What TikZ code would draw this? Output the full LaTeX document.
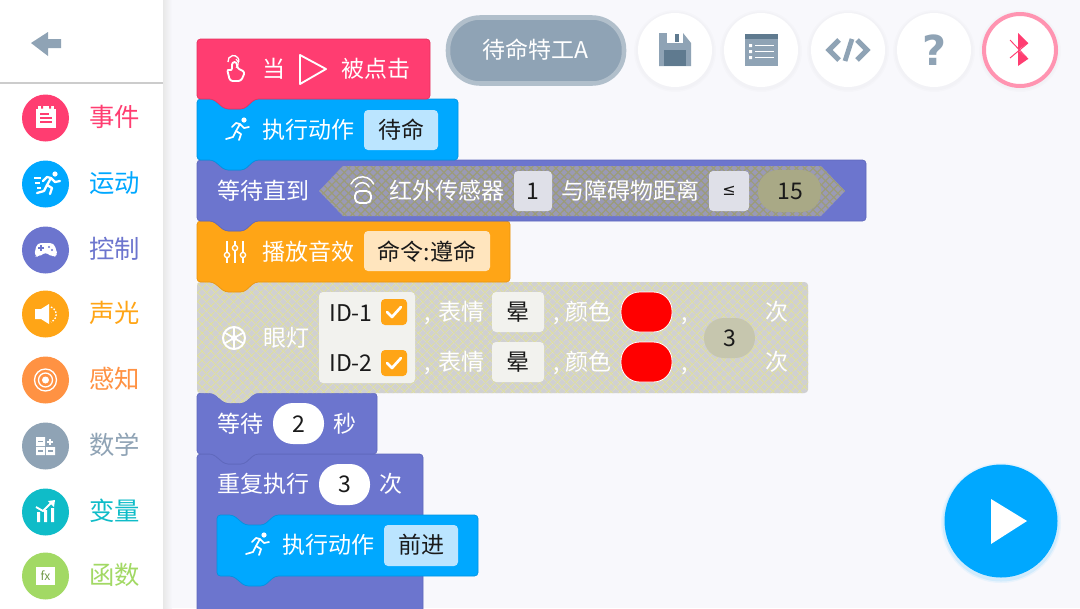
\documentclass[tikz,border=0pt]{standalone}
\usepackage{fontspec}
\setmainfont{Noto Sans CJK SC}
\newfontfamily\symf{DejaVu Sans}
\usetikzlibrary{patterns.meta,shadings}
\definecolor{bgc}{HTML}{F8F8FC}
\definecolor{pinkc}{HTML}{FF3D71}
\definecolor{pinkd}{HTML}{E5345F}
\definecolor{bluec}{HTML}{00A8FF}
\definecolor{blued}{HTML}{0093E0}
\definecolor{purpc}{HTML}{6C75CE}
\definecolor{purpd}{HTML}{5F68BC}
\definecolor{orgc}{HTML}{FFA516}
\definecolor{orgd}{HTML}{E8940F}
\definecolor{org2}{HTML}{FF9243}
\definecolor{greyc}{HTML}{8FA3B5}
\definecolor{greyd}{HTML}{5F7A8F}
\definecolor{tealc}{HTML}{0FBCC8}
\definecolor{greenc}{HTML}{A2D964}
\definecolor{fldblue}{HTML}{BBE5FF}
\definecolor{fldorg}{HTML}{FFE5BE}
\definecolor{fldgrey}{HTML}{DFE0E8}
\definecolor{fldpale}{HTML}{F2F2EE}
\definecolor{lampc}{HTML}{D0D0D2}
\definecolor{lampy}{HTML}{E0E09A}
\definecolor{hexc}{HTML}{9A9AB6}
\definecolor{hexy}{HTML}{9C9C78}
\definecolor{ovalA}{HTML}{A9A986}
\definecolor{ovalB}{HTML}{C6C6AE}
\definecolor{inkc}{HTML}{1A1A1A}
\newcommand{\fs}[1]{\fontsize{#1}{#1}\selectfont}
\newcommand{\blockshape}[4]{%
 (#1,#2) -- (#1+16,#2) -- (#1+28,#2+10) -- (#1+47,#2+10) -- (#1+58,#2) -- (#3,#2)
 -- (#3,#4) -- (#1+58,#4) -- (#1+47,#4+10) -- (#1+28,#4+10) -- (#1+16,#4) -- (#1,#4) -- cycle}
\tikzset{
 x=0.75pt,y=-0.75pt,
 cat/.style={font=\fs{19}},
 wht/.style={text=white,font=\fs{17.25},inner sep=0pt},
 blk/.style={text=inkc,font=\fs{17.25},inner sep=0pt},
 field/.style={rounded corners=3pt},
 iconl/.style={draw=white,line width=1.4pt,line cap=round,fill=none},
 topbtn/.style={fill=white,draw=none},
 blockb/.style={rounded corners=2.6pt,line width=.5pt},
 lampfill/.style={preaction={fill=lampc},pattern={Lines[angle=45,distance=5.4pt,line width=.9pt]},pattern color=lampy,postaction={pattern={Lines[angle=-45,distance=5.4pt,line width=.9pt]},pattern color=lampy}},
 hexfill/.style={preaction={fill=hexc},pattern={Lines[angle=45,distance=4.4pt,line width=.9pt]},pattern color=hexy,postaction={pattern={Lines[angle=-45,distance=4.4pt,line width=.9pt]},pattern color=hexy}},
}
\newcommand{\runner}[3]{%
 \fill[white] (#1+7,#2-10) circle[radius=2.6];
 \draw[white,line width=#3,line cap=round,line join=round,fill=none]
  (#1+3,#2-6) -- (#1-1,#2+1) -- (#1+4,#2+4) -- (#1+2,#2+10)
  (#1-1,#2+1) -- (#1-4,#2+7) -- (#1-11,#2+9)
  (#1-5,#2-3) -- (#1-1,#2-7) -- (#1+3,#2-6) -- (#1+7,#2-2) -- (#1+12,#2-3);
}
\begin{document}
\begin{tikzpicture}[x=0.75pt,y=-0.75pt]
\useasboundingbox (0,0) rectangle (1080,608);
\fill[bgc] (0,0) rectangle (1080,608);
% sidebar
\shade[left color=black!9,right color=bgc] (163,0) rectangle (172,608);
\fill[white] (0,0) rectangle (163,608);
\draw[black!20,line width=0.9pt] (0,83) -- (163,83);
\fill[greyc] (31,43) -- (48,32) -- (48,39) -- (61,39) -- (61,48) -- (48,48) -- (48,56) -- cycle;
\foreach \yy/\cc/\tt in {118/pinkc/事件,184/bluec/运动,250/purpc/控制,314/orgc/声光,380/org2/感知,446/greyc/数学,512/tealc/变量,576/greenc/函数}{
 \fill[\cc] (45.5,\yy) circle[radius=23.5];
 \node[cat,text=\cc,inner sep=0pt] at (114.5,\yy-1) {\tt};
}
% event icon
\fill[white] (36,109) rectangle (56,128);
\fill[white] (38,106) rectangle (54,109);
\fill[pinkc] (41,106) rectangle (43,108.5) (49,106) rectangle (51,108.5);
\draw[pinkc,line width=.9pt] (40,114) -- (49,114) (40,118) -- (52,118) (40,122) -- (52,122);
% run icon
\runner{48}{184}{1.7pt}
\draw[white,line width=1pt] (34,178) -- (41,178) (35,183) -- (40,183) (37,188) -- (41,188);
% gamepad
\fill[white,rounded corners=3pt] (34,256) -- (37,243) -- (54,243) -- (58,256) -- (52,257) -- (48,253) -- (43,253) -- (39,257) -- cycle;
\draw[purpc,line width=1pt] (38,248) -- (44,248) (41,245) -- (41,251);
\fill[purpc] (49,247) circle[radius=1.1] (52,250) circle[radius=1.1];
% speaker
\fill[white] (35,309) rectangle (41,319) (41,309) -- (49,304) -- (49,324) -- (41,319) -- cycle;
\draw[white,line width=1pt,dash pattern=on 1.2pt off 1.2pt] (51,307) arc[start angle=-70,end angle=70,radius=8];
% radar
\draw[white,line width=1pt] (45.5,380) circle[radius=11] circle[radius=7];
\fill[white] (45.5,380) circle[radius=3.5];
% math
\fill[white] (36,437) rectangle (45,446) (36,447) rectangle (45,455) (46,447) rectangle (55,455);
\draw[greyc,line width=.8pt] (38,441.5) -- (43,441.5) (38,451) -- (43,451) (48,451) -- (53,451);
\draw[white,line width=1pt] (47,442) -- (53,442) (50,439) -- (50,445);
% variable
\fill[white] (37,512) rectangle (40,522) (44,510) rectangle (47,522) (51,508) rectangle (54,522);
\draw[white,line width=1.4pt] (36,507) -- (43,511) -- (52,502);
\fill[white] (55,500) -- (48,501) -- (54,507) -- cycle;
% function
\fill[white] (36,567) rectangle (55,585);
\node[text=greenc!70!black,font=\fs{9}\itshape,inner sep=0pt] at (45.5,576) {fx};
% repeat body
\path[fill=purpc,draw=purpd,blockb] (197,454) -- (213,454) -- (225,464) -- (244,464) -- (255,454) -- (423,454) -- (423,612) -- (197,612) -- cycle;
% blocks, bottom to top
\path[fill=purpc,draw=purpd,blockb] \blockshape{197}{393}{377}{454};
\path[lampfill,rounded corners=2.6pt] \blockshape{197}{282}{808}{393};
\path[fill=orgc,draw=orgd,blockb] \blockshape{197}{221}{510}{282};
\path[fill=purpc,draw=purpd,blockb] \blockshape{197}{160}{866}{221};
\path[fill=bluec,draw=blued,blockb] \blockshape{197}{99}{458}{160};
\path[fill=pinkc,draw=pinkd,blockb] (197,39) -- (430,39) -- (430,99) -- (255,99) -- (244,109) -- (225,109) -- (213,99) -- (197,99) -- cycle;
% red contents
\draw[white,line width=1pt] (228,62) arc[start angle=170,end angle=370,radius=5.5];
\draw[white,line width=.8pt] (236,59) arc[start angle=-60,end angle=60,radius=5];
\draw[iconl,line join=round,rounded corners=2pt] (232,62) -- (232,71) -- (227,69) -- (230,81) -- (241,81) -- (245,72) -- (237,68) -- (237,62) -- cycle;
\node[wht] (t1) at (274,69) {当};
\draw[white,line width=1.4pt,line join=round] (300,55) -- (326,69) -- (300,84) -- cycle;
\node[wht] (t2) at (375.5,69) {被点击};
% blue contents
\runner{237}{130}{1.3pt}
\node[wht] (t3) at (308.5,130) {执行动作};
\fill[fldblue,field] (364,110) rectangle (438,150);
\node[blk] (t4) at (401,130) {待命};
% wait until contents
\node[wht] (t5) at (263,191) {等待直到};
\path[hexfill] (319,191) -- (343,166) -- (821,166) -- (845,191) -- (821,216) -- (343,216) -- cycle;
\draw[iconl,line width=1.1pt] (351,184) arc[start angle=205,end angle=335,radius=12.5] (355.5,187) arc[start angle=205,end angle=335,radius=7.5];
\draw[iconl,line width=1.4pt,rounded corners=3.5pt] (355,191) rectangle (371,203);
\node[wht] (t6) at (446.5,191) {红外传感器};
\fill[fldgrey,field] (514,171) rectangle (552,211);
\node[blk] (t7) at (533,191) {1};
\node[wht] (t8) at (630,191) {与障碍物距离};
\fill[fldgrey,field] (709,171) rectangle (749,211);
\node[text=inkc,font=\fs{12}\symf,inner sep=0pt] (t9) at (729,191) {≤};
\fill[ovalA,rounded corners=15pt] (758,170) rectangle (821,212);
\node[blk] (t10) at (790,191) {15};
% orange contents
\draw[white,line width=1.1pt] (227,241) -- (227,263) (235,241) -- (235,263) (243,241) -- (243,263);
\fill[orgc,draw=white,line width=1pt] (227,255) circle[radius=2.6] (235,248) circle[radius=2.6] (243,255) circle[radius=2.6];
\node[wht] (t11) at (308.5,252) {播放音效};
\fill[fldorg,field] (364,231) rectangle (490,271);
\node[blk] (t12) at (427,252) {命令:遵命};
% lamp contents
\draw[white,line width=1.5pt] (234,338) circle[radius=11];
\fill[white] (234,338) circle[radius=3];
\draw[white,line width=1.3pt] (234,327) -- (234,349) (224.5,332.5) -- (243.5,343.5) (224.5,343.5) -- (243.5,332.5);
\node[wht] (t13) at (286,338) {眼灯};
\fill[fldpale,field] (319,292) rectangle (415,383);
\node[blk,anchor=west] (t14) at (329,313) {ID-1};
\node[blk,anchor=west] (t15) at (329,363) {ID-2};
\foreach \yy in {299,350}{
 \fill[orgc,rounded corners=3pt] (381,\yy) rectangle (407,\yy+26);
 \draw[white,line width=2pt,line cap=round,line join=round] (387,\yy+13) -- (392,\yy+18) -- (401,\yy+8);
}
\foreach \yy/\nn in {312/a,362/b}{
 \node[wht,anchor=base west] (c\nn) at (424,\yy+8) {,};
 \node[wht] (b\nn) at (461,\yy) {表情};
 \fill[fldpale,field] (492,\yy-20) rectangle (544,\yy+20);
 \node[blk] (y\nn) at (518,\yy) {晕};
 \node[wht,anchor=base west] (d\nn) at (553,\yy+8) {,};
 \node[wht] (e\nn) at (588,\yy) {颜色};
 \path[fill=red,draw=white,line width=.6pt,rounded corners=14pt] (621,\yy-20) rectangle (672,\yy+20);
 \node[wht,anchor=base west] (f\nn) at (681,\yy+8) {,};
 \node[wht] (g\nn) at (777,\yy) {次};
}
\fill[ovalB,rounded corners=15pt] (704,318) rectangle (755,358);
\node[blk] (t16) at (729.5,338) {3};
% wait seconds contents
\node[wht] (t17) at (240.5,424) {等待};
\fill[white,rounded corners=15pt] (273,403) rectangle (324,444);
\node[blk] (t18) at (298.5,424) {2};
\node[wht] (t19) at (345,424) {秒};
% repeat contents
\node[wht] (t20) at (263.5,484) {重复执行};
\fill[white,rounded corners=15pt] (319,464) rectangle (370,505);
\node[blk] (t21) at (344.5,484) {3};
\node[wht] (t22) at (391,484) {次};
\path[fill=bluec,draw=blued,blockb] \blockshape{217}{515}{478}{576};
\runner{257}{545}{1.3pt}
\node[wht] (t23) at (328.5,545) {执行动作};
\fill[fldblue,field] (384,525) rectangle (458,566);
\node[blk] (t24) at (421,545) {前进};
% top buttons
\foreach \xx in {675,761,848,934,1020}{\fill[black,opacity=.012] (\xx,51) circle[radius=41];\fill[black,opacity=.012] (\xx,51) circle[radius=39.5];}
\foreach \xx in {675,761,848,934}{\fill[topbtn] (\xx,50) circle[radius=37];}
\path[fill=white,draw=pinkc!55!white,line width=3pt] (1020,50) circle[radius=36];
\path[fill=greyc,draw=greyc!70!white,line width=3.4pt,rounded corners=24pt] (448,17.5) rectangle (624,83.5);
\node[wht] (t25) at (535.5,50) {待命特工A};
% save
\fill[greyc] (659,33) -- (683,33) -- (691,43) -- (691,66) -- (659,66) -- cycle;
\fill[greyd] (664,50) rectangle (686,66);
\fill[white] (667,33) rectangle (683,43);
\fill[greyd] (675,34) rectangle (679,42);
% list
\fill[greyc] (745,34) rectangle (778,66);
\fill[greyd] (745,34) rectangle (778,39);
\fill[white] (749,44) rectangle (752,47) (749,50) rectangle (752,53) (749,56) rectangle (752,59);
\draw[white,line width=1.3pt] (755,45.5) -- (774,45.5) (755,51.5) -- (774,51.5) (755,57.5) -- (774,57.5);
% code
\draw[greyc,line width=3.8pt] (839,40) -- (829,50) -- (839,60) (857,40) -- (867,50) -- (857,60);
\draw[greyc,line width=3.6pt] (852,39) -- (845,61);
% help
\node[text=greyc,font=\fs{31}\symf\bfseries,inner sep=0pt] (t26) at (934,50) {?};
% bluetooth
\fill[pinkc] (1018,33) -- (1028,43) -- (1018,50) -- cycle (1018,50) -- (1028,59) -- (1018,66) -- cycle;
\draw[pinkc,line width=.7pt] (1010,40) -- (1028,59) (1010,58) -- (1028,43);
% play
\foreach \r/\o in {60/.06,58.5/.1}{\fill[bluec,opacity=\o] (1001,523) circle[radius=\r];}
\fill[bluec] (1001,521) circle[radius=56.5];
\fill[white] (991,499) -- (1027,521) -- (991,544) -- cycle;
\end{tikzpicture}
\end{document}
